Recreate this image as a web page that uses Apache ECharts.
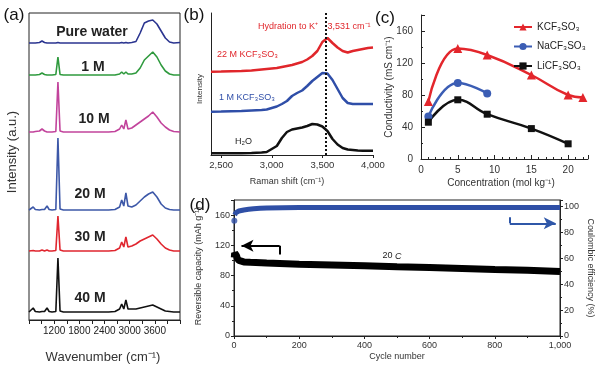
<!DOCTYPE html>
<html><head><meta charset="utf-8">
<script src="https://cdn.jsdelivr.net/npm/echarts@6/dist/echarts.min.js"></script>
<style>html,body{margin:0;padding:0;background:#fff}#c{width:600px;height:366px}</style>
</head><body><div id="c"></div>
<script>
// ---------- Panel (a): Raman spectra, stacked ----------
const aWavenumber = [600,700,750,850,910,970,1030,1080,1150,1240,1290,1340,1420,1600,1900,2200,2500,2650,2760,2810,2860,2910,2960,3050,3150,3250,3350,3450,3550,3650,3750,3850,3950,4050,4200];
const aPureWater = [0,0,0,0.5,2,0.5,0,0,0,0,0.5,0,0,0,0,0,0,0,0,0.5,0,0.5,0,0.5,1.5,10,20,22,23,19,12,5,1,0,0.5];
const a1M  = [0,0,0,0.5,2,0.5,0,0,0,0.5,18,0.5,0,0,0,0,0,0,1,3,1,3,1,1,2,7,15,19,23,18,10,4,1,0,0];
const a10M = [0,0,0.5,1,3,1,0,0,0,0.5,50,1,0,0,0,0,0,0.5,3,7,3,12,3,4,7,10,13,16,20,15,9,5,2,0.5,0];
const a20M = [0,3,0.5,0,0.5,0.5,4,0.5,0,0.5,72,1,0,0,0,0,0,0.5,3,10,4,17,4,3,5,9,13,16,18,13,6,2,0.5,0,0];
const a30M = [0,0.5,0,0,1,0,1,0,0,0.5,35,1,0,0,0,0,0,0.5,3,9,4,14,4,5,7,10,12,14,16,12,7,3,1,0,0];
const a40M = [0,4,0.5,0,0.5,0.5,4,0.5,0,0.5,54,1,0,0,0,0,0,0.5,3,8,3,12,3,3,3,4,5,6,7,5,3,1,0.5,0,0];
const aOffsets = [277,245,188,110,69,8];
const aNames = ['Pure water','1 M','10 M','20 M','30 M','40 M'];
const aTickLabels = [1200,1800,2400,3000,3600];

// ---------- Panel (b): Raman shift ----------
const bShift = [2400,2500,2600,2700,2800,2900,2950,3000,3050,3100,3150,3200,3250,3300,3350,3400,3450,3500,3550,3600,3650,3700,3750,3800,3850,3900,3950,4000];
const bH2O = [1.7,1.7,1.7,1.8,2,2.5,3,6,9,17,23,25.5,26.5,27.5,29,31,30.5,28.5,24,16,10.5,7,5.5,5,4.5,4.3,4.3,4.3];
const b1M  = [43.3,43.5,43.8,44,44.5,45,45.5,47,48.5,51,54,59,62,64.5,69,74,78,82,81.5,75,66,57,52,51,51,51,51,51];
const b22M = [83.3,83.5,83.8,84,84.5,85.5,86,86.5,87,88,89,90,91.5,93,95.5,99,104,113,117,112,107.5,104,102.5,104,105,106,107,107.5];
const bTicks = [2500,3000,3500,4000];
const bHydration = 3531;

// ---------- Panel (c): conductivity ----------
const cKConc = [1,5,9,15,20,22];
const cKVal  = [72,138,130,105,80,77];
const cNaConc = [1,5,9];
const cNaVal  = [53,95,82];
const cLiConc = [1,5,9,15,20];
const cLiVal  = [46,74,56,38,19];

// ---------- Panel (d): cycling ----------
const dCapCycle = [1,2,3,5,8,10,15,20,30,50,100,200,300,400,500,600,700,800,900,1000];
const dCapVal   = [104,110,111,109,106,103,100,99,98,97.5,96.5,95,94,93,91.5,90.5,89.5,88,87,85.5];
const dCeCycle = [2,4,6,10,15,20,30,45,60,80,100,150,200,300,400,500,600,700,800,900,1000];
const dCeVal   = [93.5,94.5,95.2,96,96.5,96.9,97.3,97.8,98.2,98.6,98.9,99.1,99.2,99.2,99.2,99.2,99.2,99.2,99.2,99.2,99.2];
const dCeFirst = [[1,89]];

const FONT = "'Liberation Sans', Arial, sans-serif";
function pairs(xs, ys, off){ return xs.map((x,i)=>[x, ys[i] + (off||0)]); }
function txt(x,y,text,o){ o=o||{};
  return {type:'text', x:x, y:y, rotation:o.rot||0, z:100, silent:true,
    style:{text:text, fill:o.color||'#222', fontSize:o.size||10, fontWeight:o.weight||'normal',
      fontFamily:FONT, align:o.align||'center', verticalAlign:'middle', rich:o.rich}};
}
const AX = {show:true, lineStyle:{color:'#222', width:1}};
const NOSPLIT = {show:false};

const aColors = ['#2b3590','#2f9a3e','#c2449c','#3d58a8','#e0262f','#111111'];
const aSeries = [aPureWater,a1M,a10M,a20M,a30M,a40M].map((arr,k)=>({
  type:'line', xAxisIndex:0, yAxisIndex:0, data:pairs(aWavenumber, arr, aOffsets[k]),
  symbol:'none', lineStyle:{width:1.6, color:aColors[k]}, silent:true
}));

const chart = echarts.init(document.getElementById('c'));
chart.setOption({
  animation:false,
  textStyle:{fontFamily:FONT},
  grid:[
    {left:29, top:13, width:151, height:307, show:true, borderColor:'#222', borderWidth:1},
    {left:211, top:13, width:162, height:142},
    {left:421, top:15, width:167, height:144},
    {left:234, top:200, width:326, height:136, show:true, borderColor:'#222', borderWidth:1}
  ],
  legend:{
    data:['KCF₃SO₃','NaCF₃SO₃','LiCF₃SO₃'], orient:'vertical', left:508, top:17,
    itemWidth:18, itemHeight:9, itemGap:9.5, textStyle:{fontSize:10, color:'#222'}
  },
  xAxis:[
    {gridIndex:0, type:'value', min:600, max:4200, interval:300, axisLine:AX,
     axisTick:{show:true, length:4, lineStyle:{color:'#222'}},
     axisLabel:{customValues:aTickLabels, fontSize:10, color:'#222', margin:6, hideOverlap:false,
       formatter:v=>String(Math.round(v))},
     splitLine:NOSPLIT},
    {gridIndex:1, type:'value', min:2400, max:4000, axisLine:AX,
     axisTick:{show:true, length:3, customValues:bTicks, lineStyle:{color:'#222'}},
     axisLabel:{customValues:bTicks, fontSize:9.5, color:'#333', margin:5, formatter:v=>v.toLocaleString('en-US')},
     splitLine:NOSPLIT},
    {gridIndex:2, type:'value', min:0, max:22.7, interval:5, axisLine:AX,
     axisTick:{inside:true, length:4, lineStyle:{color:'#222'}},
     minorTick:{show:true, splitNumber:5, length:2, lineStyle:{color:'#222'}},
     axisLabel:{fontSize:10, color:'#333', margin:6, formatter:v=>(v%5===0?String(v):'')},
     splitLine:NOSPLIT, minorSplitLine:NOSPLIT},
    {gridIndex:3, type:'value', min:0, max:1000, interval:200, axisLine:AX,
     axisTick:{length:3, lineStyle:{color:'#222'}},
     minorTick:{show:true, splitNumber:2, length:2, lineStyle:{color:'#222'}},
     axisLabel:{fontSize:9, color:'#333', margin:5, formatter:v=>v.toLocaleString('en-US')},
     splitLine:NOSPLIT, minorSplitLine:NOSPLIT}
  ],
  yAxis:[
    {gridIndex:0, type:'value', min:0, max:307, axisLine:{show:false}, axisTick:{show:false}, axisLabel:{show:false}, splitLine:NOSPLIT},
    {gridIndex:1, type:'value', min:0, max:142, axisLine:AX, axisTick:{show:false}, axisLabel:{show:false}, splitLine:NOSPLIT},
    {gridIndex:2, type:'value', min:0, max:180, interval:40, axisLine:AX,
     axisTick:{inside:true, length:4, lineStyle:{color:'#222'}},
     minorTick:{show:true, splitNumber:2, length:2, lineStyle:{color:'#222'}},
     axisLabel:{fontSize:10, color:'#333', margin:8, formatter:v=>(v%40===0?String(v):'')},
     splitLine:NOSPLIT, minorSplitLine:NOSPLIT},
    {gridIndex:3, type:'value', position:'left', min:0, max:180, interval:40, axisLine:AX,
     axisTick:{length:3, lineStyle:{color:'#222'}},
     minorTick:{show:true, splitNumber:2, length:2, lineStyle:{color:'#222'}},
     axisLabel:{fontSize:9, color:'#333', margin:4, formatter:v=>(v%40===0?String(v):'')},
     splitLine:NOSPLIT, minorSplitLine:NOSPLIT},
    {gridIndex:3, type:'value', position:'right', min:0, max:105, interval:20, axisLine:AX,
     axisTick:{length:3, lineStyle:{color:'#222'}},
     minorTick:{show:true, splitNumber:2, length:2, lineStyle:{color:'#222'}},
     axisLabel:{fontSize:9, color:'#333', margin:4, formatter:v=>(v%20===0?String(v):'')},
     splitLine:NOSPLIT, minorSplitLine:NOSPLIT}
  ],
  series:[
    ...aSeries,
    {type:'line', xAxisIndex:1, yAxisIndex:1, data:pairs(bShift,bH2O), symbol:'none', lineStyle:{width:2.5,color:'#111'},
     markLine:{silent:true, symbol:'none', label:{show:false}, lineStyle:{type:'dotted', color:'#111', width:2},
       data:[{xAxis:bHydration}]}},
    {type:'line', xAxisIndex:1, yAxisIndex:1, data:pairs(bShift,b1M), symbol:'none', lineStyle:{width:2.5,color:'#2f4ea8'}},
    {type:'line', xAxisIndex:1, yAxisIndex:1, data:pairs(bShift,b22M), symbol:'none', lineStyle:{width:2.5,color:'#e0262b'}},
    {name:'KCF₃SO₃', type:'line', xAxisIndex:2, yAxisIndex:2, data:pairs(cKConc,cKVal), smooth:0.45,
     symbol:'triangle', symbolSize:9, itemStyle:{color:'#e3262c'}, lineStyle:{width:2.5,color:'#e3262c'}},
    {name:'NaCF₃SO₃', type:'line', xAxisIndex:2, yAxisIndex:2, data:pairs(cNaConc,cNaVal), smooth:0.45,
     symbol:'circle', symbolSize:8, itemStyle:{color:'#3b5db4'}, lineStyle:{width:2.5,color:'#3b5db4'}},
    {name:'LiCF₃SO₃', type:'line', xAxisIndex:2, yAxisIndex:2, data:pairs(cLiConc,cLiVal), smooth:0.45,
     symbol:'rect', symbolSize:7, itemStyle:{color:'#111'}, lineStyle:{width:2.5,color:'#111'}},
    {type:'line', xAxisIndex:3, yAxisIndex:3, data:pairs(dCapCycle,dCapVal), symbol:'none',
     lineStyle:{width:7,color:'#000'},
     markLine:{silent:true, label:{show:false}, lineStyle:{type:'solid', color:'#000', width:2},
       data:[
         [{coord:[140,108], symbol:'none'},{coord:[140,119.5], symbol:'none'}],
         [{coord:[140,119.5], symbol:'none'},{coord:[23,119.5], symbol:'arrow', symbolSize:[9,12]}]
       ]}},
    {type:'line', xAxisIndex:3, yAxisIndex:4, data:pairs(dCeCycle,dCeVal), symbol:'none',
     lineStyle:{width:5,color:'#2f4fa6'},
     markLine:{silent:true, label:{show:false}, lineStyle:{type:'solid', color:'#2f57a8', width:2},
       data:[
         [{coord:[846,91.6], symbol:'none'},{coord:[846,87], symbol:'none'}],
         [{coord:[846,87], symbol:'none'},{coord:[987,87], symbol:'arrow', symbolSize:[9,12]}]
       ]}},
    {type:'scatter', xAxisIndex:3, yAxisIndex:4, data:dCeFirst, symbolSize:6, itemStyle:{color:'#2f4fa6'}}
  ],
  graphic:[
    txt(14,15,'(a)',{size:17,color:'#111'}),
    txt(194,15,'(b)',{size:17,color:'#111'}),
    txt(385,18,'(c)',{size:17,color:'#111'}),
    txt(200,205,'(d)',{size:17,color:'#111'}),
    txt(92,32,aNames[0],{size:14,weight:'bold',color:'#222'}),
    txt(93,67,aNames[1],{size:14,weight:'bold',color:'#222'}),
    txt(94,119,aNames[2],{size:14,weight:'bold',color:'#222'}),
    txt(90,194,aNames[3],{size:14,weight:'bold',color:'#222'}),
    txt(90,237,aNames[4],{size:14,weight:'bold',color:'#222'}),
    txt(90,298,aNames[5],{size:14,weight:'bold',color:'#222'}),
    txt(12,152,'Intensity (a.u.)',{size:13,rot:Math.PI/2,color:'#333'}),
    txt(103,357,'Wavenumber (cm⁻¹)',{size:13,color:'#333'}),
    txt(200,89,'Intensity',{size:8,rot:Math.PI/2,color:'#333'}),
    txt(287,182,'Raman shift (cm⁻¹)',{size:9,color:'#333'}),
    txt(288,27,'Hydration to K⁺',{size:9,color:'#e0262b'}),
    txt(349,27,'3,531 cm⁻¹',{size:9,color:'#e0262b'}),
    txt(217,55,'22 M KCF₃SO₃',{size:9,color:'#e0262b',align:'left'}),
    txt(219,98,'1 M KCF₃SO₃',{size:9,color:'#2f4ea8',align:'left'}),
    txt(235,142,'H₂O',{size:9,color:'#222',align:'left'}),
    txt(389,87,'Conductivity (mS cm⁻¹)',{size:10,rot:Math.PI/2,color:'#333'}),
    txt(501,183,'Concentration (mol kg⁻¹)',{size:10,color:'#333'}),
    txt(199,266,'Reversible capacity (mAh g⁻¹)',{size:9,rot:Math.PI/2,color:'#333'}),
    txt(590,268,'Coulombic efficiency (%)',{size:9,rot:-Math.PI/2,color:'#333'}),
    txt(397,357,'Cycle number',{size:9,color:'#333'}),
    txt(392,256,'20 {i|C}',{size:9,color:'#222',rich:{i:{fontStyle:'italic',fontSize:9,fontFamily:FONT}}})
  ]
});
</script></body></html>
